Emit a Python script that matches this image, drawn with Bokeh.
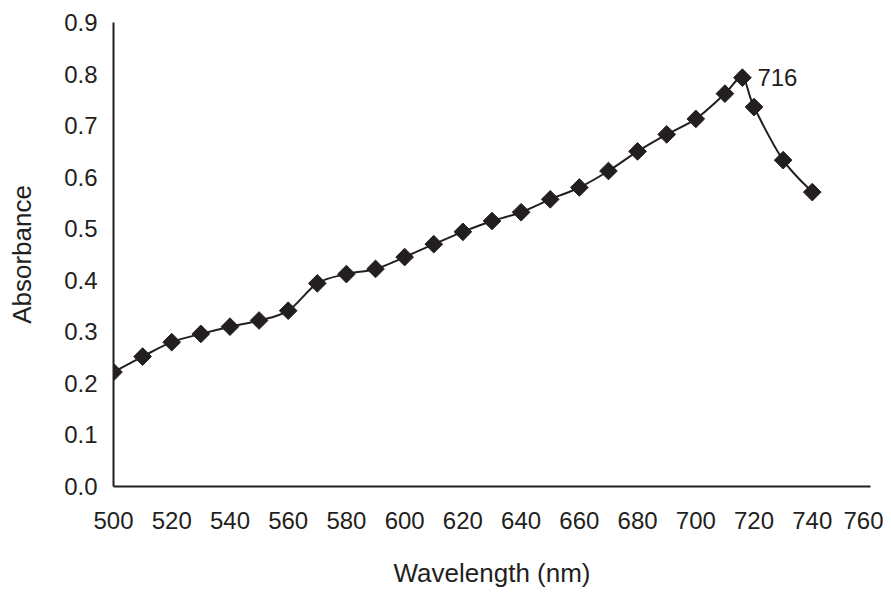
from bokeh.plotting import figure
from bokeh.models import Range1d, FixedTicker, Label, CustomJSTickFormatter
from bokeh.embed import file_html
from bokeh.resources import INLINE

wavelength = [500, 510, 520, 530, 540, 550, 560, 570, 580, 590, 600, 610, 620,
              630, 640, 650, 660, 670, 680, 690, 700, 710, 716, 720, 730, 740]
absorbance = [0.222, 0.252, 0.280, 0.296, 0.310, 0.322, 0.341, 0.394, 0.412,
              0.422, 0.445, 0.470, 0.494, 0.515, 0.532, 0.557, 0.580, 0.612,
              0.650, 0.683, 0.713, 0.762, 0.793, 0.736, 0.633, 0.571]
x_ticks = list(range(500, 761, 20))
y_ticks = [round(0.1 * i, 1) for i in range(10)]
peak_label = "716"

FONT = "Liberation Sans"
INK = "#231f20"
FS = "24px"
FS_TITLE = "26px"

p = figure(width=883, height=590, output_backend="svg", toolbar_location=None,
           x_range=Range1d(500, 760), y_range=Range1d(0, 0.9),
           min_border_left=113, min_border_right=13, min_border_top=22,
           min_border_bottom=102)
p.grid.visible = False
p.outline_line_color = None
p.background_fill_color = "white"

# smoothed connecting line (Catmull-Rom style segments, like a spreadsheet "smooth line")
n = len(wavelength)
x0, y0, x1, y1, cx0, cy0, cx1, cy1 = [], [], [], [], [], [], [], []
for i in range(n - 1):
    xa, ya = wavelength[i], absorbance[i]
    xb, yb = wavelength[i + 1], absorbance[i + 1]
    xp, yp = (wavelength[i - 1], absorbance[i - 1]) if i > 0 else (xa, ya)
    xn, yn = (wavelength[i + 2], absorbance[i + 2]) if i + 2 < n else (xb, yb)
    x0.append(xa); y0.append(ya); x1.append(xb); y1.append(yb)
    cx0.append(xa + (xb - xp) / 6.0); cy0.append(ya + (yb - yp) / 6.0)
    cx1.append(xb - (xn - xa) / 6.0); cy1.append(yb - (yn - ya) / 6.0)
p.bezier(x0=x0, y0=y0, x1=x1, y1=y1, cx0=cx0, cy0=cy0, cx1=cx1, cy1=cy1,
         line_color=INK, line_width=2)
p.scatter(wavelength, absorbance, marker="square", size=12.5, angle=0.785398,
          fill_color=INK, line_color=INK)

for ax in (p.xaxis[0], p.yaxis[0]):
    ax.axis_line_color = INK
    ax.axis_line_width = 2
    ax.major_tick_line_color = None
    ax.minor_tick_line_color = None
    ax.major_tick_out = 0
    ax.major_tick_in = 0
    ax.major_label_text_font = FONT
    ax.major_label_text_font_size = FS
    ax.major_label_text_color = INK
    ax.axis_label_text_font = FONT
    ax.axis_label_text_font_size = FS_TITLE
    ax.axis_label_text_font_style = "normal"
    ax.axis_label_text_color = INK

p.xaxis.ticker = FixedTicker(ticks=x_ticks)
p.yaxis.ticker = FixedTicker(ticks=y_ticks)
p.yaxis.formatter = CustomJSTickFormatter(code="return tick.toFixed(1);")
p.xaxis.major_label_standoff = 25
p.yaxis.major_label_standoff = 16
p.xaxis.axis_label = "Wavelength (nm)"
p.yaxis.axis_label = "Absorbance"
p.xaxis.axis_label_standoff = 26
p.yaxis.axis_label_standoff = 24

peak_i = wavelength.index(716)
p.add_layout(Label(x=wavelength[peak_i], y=absorbance[peak_i], text=peak_label,
                   x_offset=15, text_baseline="middle", text_font=FONT,
                   text_font_size=FS, text_color=INK))

open("out.html", "w").write(file_html(p, INLINE))
